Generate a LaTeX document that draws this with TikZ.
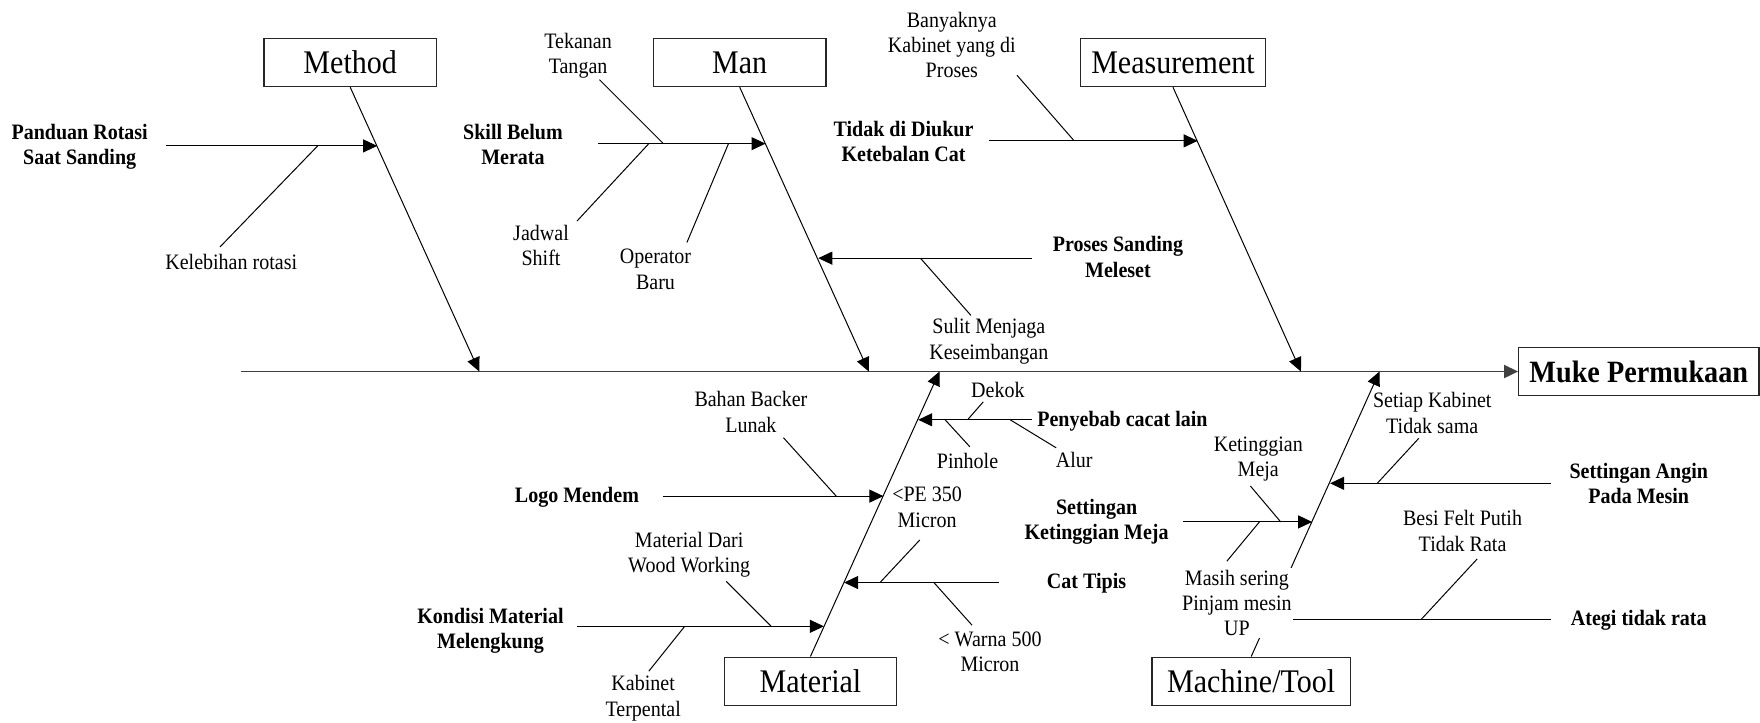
\documentclass[tikz,border=0pt]{standalone}
\usepackage{fontspec}
\setmainfont{Liberation Serif}[FakeStretch=0.91]
\usetikzlibrary{arrows.meta}

\begin{document}
\begin{tikzpicture}[
	x=0.5612pt, y=-0.5612pt,
	>={Triangle[length=7pt,width=6.5pt]},
	category/.style={rectangle,draw=black!85,line width=0.7pt,minimum height=24.1pt,inner sep=0pt,font=\fontsize{16.5}{18}\selectfont},
	effect/.style={category,font=\bfseries\fontsize{15.5}{17}\selectfont},
	cause/.style={align=center,font=\bfseries\fontsize{11}{12.6}\selectfont},
	subcause/.style={align=center,font=\fontsize{11}{12.6}\selectfont},
	bone/.style={->,line width=0.5pt},
	twig/.style={line width=0.5pt},
	spine/.style={->,draw=black!75,line width=0.9pt}
	]
	\useasboundingbox (0,0) rectangle (1568,644);

	\node[effect, minimum width=120pt] (effect) at (1460, 331) {Muke Permukaan};
	\node[category, minimum width=86.4pt] (method) at (312, 55.6) {Method};
	\node[category, minimum width=86.4pt] (man) at (659, 55.6) {Man};
	\node[category, minimum width=92.6pt] (measure) at (1045, 55.6) {Measurement};
	\node[category, minimum width=86.2pt] (material) at (722, 607) {Material};
	\node[category, minimum width=99.1pt] (machine) at (1114.7, 607) {Machine/Tool};

	\coordinate (tail) at (215, 331);
	\draw[spine] (tail) -- (effect.west);

	\coordinate (method-end) at (427, 331);
	\coordinate (man-end) at (774, 331);
	\coordinate (measure-end) at (1159, 331);
	\coordinate (material-end) at (837, 331);
	\coordinate (machine-end) at (1229, 331);
	\draw[bone] (method.south) -- (method-end);
	\draw[bone] (man.south) -- (man-end);
	\draw[bone] (measure.south) -- (measure-end);
	\draw[bone] (material.north) -- (material-end);
	\draw[bone] (machine.north) -- (machine-end);

	\node[cause] (panduan) at (71, 131) {Panduan Rotasi\\Saat Sanding};
	\coordinate (panduan-s) at (148, 130);
	\coordinate (panduan-e) at (336, 130);
	\draw[bone] (panduan-s) -- (panduan-e);
	\node[subcause] (kelebihan) at (206, 233) {Kelebihan rotasi};
	\coordinate (kelebihan-s) at (196, 220);
	\coordinate (kelebihan-e) at (283, 130);
	\draw[twig] (kelebihan-s) -- (kelebihan-e);

	\node[cause] (skill) at (457, 129) {Skill Belum\\Merata};
	\coordinate (skill-s) at (533, 128);
	\coordinate (skill-e) at (682, 128);
	\draw[bone] (skill-s) -- (skill-e);
	\node[subcause] (tekanan) at (515, 50) {Tekanan\\Tangan};
	\coordinate (tekanan-s) at (534, 71);
	\coordinate (tekanan-e) at (591, 128);
	\draw[twig] (tekanan-s) -- (tekanan-e);
	\node[subcause] (jadwal) at (482, 219) {Jadwal\\Shift};
	\coordinate (jadwal-s) at (514, 197);
	\coordinate (jadwal-e) at (578, 128);
	\draw[twig] (jadwal-s) -- (jadwal-e);
	\node[subcause] (operator) at (584, 240) {Operator\\Baru};
	\coordinate (operator-s) at (612, 216);
	\coordinate (operator-e) at (649, 128);
	\draw[twig] (operator-s) -- (operator-e);

	\node[cause] (proses) at (996, 229) {Proses Sanding\\Meleset};
	\coordinate (proses-s) at (919, 230);
	\coordinate (proses-e) at (729, 230);
	\draw[bone] (proses-s) -- (proses-e);
	\node[subcause] (sulit) at (881, 304) {Sulit Menjaga\\Keseimbangan};
	\coordinate (sulit-s) at (865, 281);
	\coordinate (sulit-e) at (820, 230);
	\draw[twig] (sulit-s) -- (sulit-e);

	\node[cause] (tidak) at (805, 126) {Tidak di Diukur\\Ketebalan Cat};
	\coordinate (tidak-s) at (881, 125.5);
	\coordinate (tidak-e) at (1067, 125.5);
	\draw[bone] (tidak-s) -- (tidak-e);
	\node[subcause] (banyak) at (848, 40) {Banyaknya\\Kabinet yang di\\Proses};
	\coordinate (banyak-s) at (906, 67);
	\coordinate (banyak-e) at (957, 125.5);
	\draw[twig] (banyak-s) -- (banyak-e);

	\node[cause] (penyebab) at (1000, 375) {Penyebab cacat lain};
	\coordinate (penyebab-s) at (919, 374);
	\coordinate (penyebab-e) at (818, 374);
	\draw[bone] (penyebab-s) -- (penyebab-e);
	\node[subcause] (dekok) at (889, 347) {Dekok};
	\coordinate (dekok-s) at (876, 358);
	\coordinate (dekok-e) at (862, 374);
	\draw[twig] (dekok-s) -- (dekok-e);
	\node[subcause] (pinhole) at (862, 411) {Pinhole};
	\coordinate (pinhole-s) at (864, 398);
	\coordinate (pinhole-e) at (842, 374);
	\draw[twig] (pinhole-s) -- (pinhole-e);
	\node[subcause] (alur) at (957, 410) {Alur};
	\coordinate (alur-s) at (941, 399);
	\coordinate (alur-e) at (900, 374);
	\draw[twig] (alur-s) -- (alur-e);

	\node[cause] (logo) at (514, 443) {Logo Mendem};
	\coordinate (logo-s) at (591, 442);
	\coordinate (logo-e) at (787, 442);
	\draw[bone] (logo-s) -- (logo-e);
	\node[subcause] (bahan) at (669, 367) {Bahan Backer\\Lunak};
	\coordinate (bahan-s) at (698, 390);
	\coordinate (bahan-e) at (745, 442);
	\draw[twig] (bahan-s) -- (bahan-e);

	\node[cause] (cattipis) at (968, 520) {Cat Tipis};
	\coordinate (cattipis-s) at (890, 519);
	\coordinate (cattipis-e) at (752, 519);
	\draw[bone] (cattipis-s) -- (cattipis-e);
	\node[subcause] (pe) at (826, 452) {<PE 350\\Micron};
	\coordinate (pe-s) at (819.5, 481);
	\coordinate (pe-e) at (784, 519);
	\draw[twig] (pe-s) -- (pe-e);
	\node[subcause] (warna) at (882, 581) {< Warna 500\\Micron};
	\coordinate (warna-s) at (866, 557);
	\coordinate (warna-e) at (832, 519);
	\draw[twig] (warna-s) -- (warna-e);

	\node[cause] (kondisi) at (437, 562) {Kondisi Material\\Melengkung};
	\coordinate (kondisi-s) at (514, 558);
	\coordinate (kondisi-e) at (734, 558);
	\draw[bone] (kondisi-s) -- (kondisi-e);
	\node[subcause] (matdari) at (614, 494) {Material Dari\\Wood Working};
	\coordinate (matdari-s) at (647, 518);
	\coordinate (matdari-e) at (687, 558);
	\draw[twig] (matdari-s) -- (matdari-e);
	\node[subcause] (kabinet) at (573, 622) {Kabinet\\Terpental};
	\coordinate (kabinet-s) at (578, 598);
	\coordinate (kabinet-e) at (610, 558);
	\draw[twig] (kabinet-s) -- (kabinet-e);

	\node[cause] (angin) at (1460, 431) {Settingan Angin\\Pada Mesin};
	\coordinate (angin-s) at (1382, 430.6);
	\coordinate (angin-e) at (1185, 430.6);
	\draw[bone] (angin-s) -- (angin-e);
	\node[subcause] (setiap) at (1276, 368) {Setiap Kabinet\\Tidak sama};
	\coordinate (setiap-s) at (1264, 390.5);
	\coordinate (setiap-e) at (1227, 430.6);
	\draw[twig] (setiap-s) -- (setiap-e);

	\node[cause] (settmeja) at (977, 465) {Settingan\\Ketinggian Meja};
	\coordinate (settmeja-s) at (1054, 465);
	\coordinate (settmeja-e) at (1169, 465);
	\draw[bone] (settmeja-s) -- (settmeja-e);
	\node[subcause] (ketmeja) at (1121, 409) {Ketinggian\\Meja};
	\coordinate (ketmeja-s) at (1114, 433);
	\coordinate (ketmeja-e) at (1141, 465);
	\draw[twig] (ketmeja-s) -- (ketmeja-e);
	\node[subcause, fill=white, inner sep=1pt] (masih) at (1102, 537) {Masih sering\\Pinjam mesin\\UP};
	\coordinate (masih-s) at (1093, 500);
	\coordinate (masih-e) at (1122, 465);
	\draw[twig] (masih-s) -- (masih-e);

	\node[cause] (ategi) at (1460, 553) {Ategi tidak rata};
	\coordinate (ategi-s) at (1382, 552);
	\coordinate (ategi-e) at (1152, 552);
	\draw[twig] (ategi-s) -- (ategi-e);
	\node[subcause] (besi) at (1303, 473) {Besi Felt Putih\\Tidak Rata};
	\coordinate (besi-s) at (1316, 498);
	\coordinate (besi-e) at (1266, 552);
	\draw[twig] (besi-s) -- (besi-e);
\end{tikzpicture}
\end{document}
